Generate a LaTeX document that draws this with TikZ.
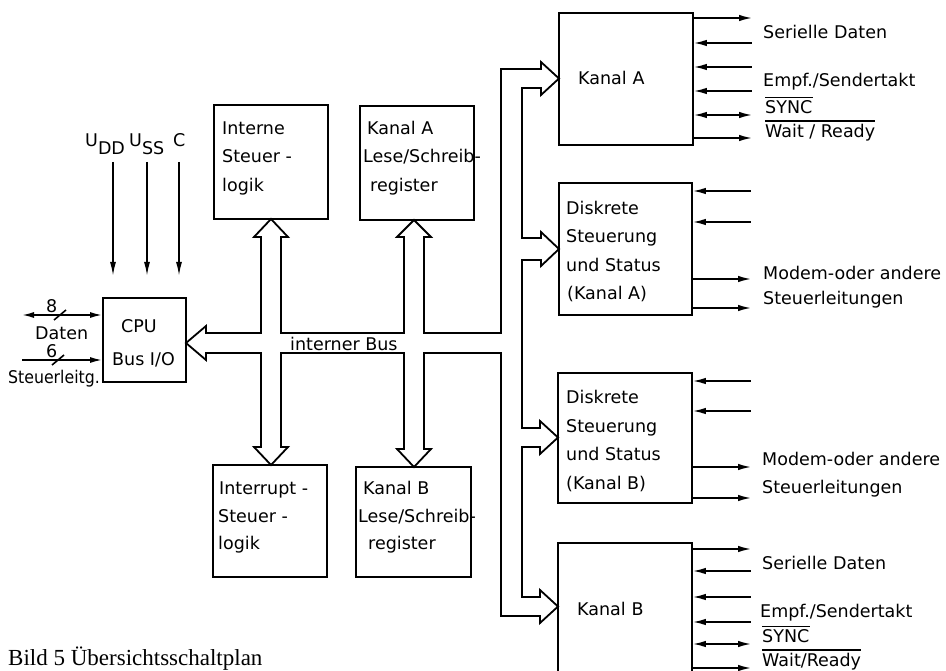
\documentclass[tikz,border=0pt]{standalone}
\usepackage{fontspec}
\setmainfont{DejaVu Sans}
\newfontfamily\capfont{Liberation Serif}
\usetikzlibrary{arrows.meta}
\tikzset{hd/.tip={Latex[length=13pt,width=6.5pt]}}
\begin{document}
\begin{tikzpicture}[x=1pt,y=-1pt,
  box/.style={draw, line width=1.8pt, inner sep=0pt},
  txt/.style={anchor=base west, inner sep=0pt, font=\fontsize{17.5}{21}\selectfont},
  sig/.style={line width=1.6pt},
  bus/.style={line width=1.8pt, line join=miter},
  ovl/.style={line width=1.5pt}
]
\useasboundingbox (0,0) rectangle (946,671);
\clip (0,0) rectangle (946,671);

% boxes
\node[box, minimum width=83pt,  minimum height=84pt]  (cpu) at (144.5,340) {};
\node[box, minimum width=114pt, minimum height=114pt] (ist) at (271,162) {};
\node[box, minimum width=114pt, minimum height=114pt] (alsr) at (417,163) {};
\node[box, minimum width=114pt, minimum height=112pt] (irq) at (270,521) {};
\node[box, minimum width=115pt, minimum height=110pt] (blsr) at (413.5,522) {};
\node[box, minimum width=134pt, minimum height=132pt] (ka) at (626,79) {};
\node[box, minimum width=133pt, minimum height=132pt] (da) at (625.5,249) {};
\node[box, minimum width=134pt, minimum height=130pt] (db) at (625,438) {};
\node[box, minimum width=134pt, minimum height=157pt] (kb) at (625,621.5) {};

% box texts
\node[txt] (t1) at (121,332.5) {CPU};
\node[txt] (t2) at (112,365.5) {Bus I/O};
\node[txt] (t3) at (222,134.5) {Interne};
\node[txt] (t4) at (222,163) {Steuer -};
\node[txt] (t5) at (222,191.5) {logik};
\node[txt] (t6) at (367,134.5) {Kanal A};
\node[txt] (t7) at (363,163) {Lese/Schreib-};
\node[txt] (t8) at (370,191.5) {register};
\node[txt] (t9) at (219,494.5) {Interrupt -};
\node[txt] (t10) at (218,522) {Steuer -};
\node[txt] (t11) at (218,549.5) {logik};
\node[txt] (t12) at (363,494.5) {Kanal B};
\node[txt] (t13) at (358,522) {Lese/Schreib-};
\node[txt] (t14) at (368,549.5) {register};
\node[txt] (t15) at (578,84.5) {Kanal\,\,A};
\node[txt] (t16) at (566,214.5) {Diskrete};
\node[txt] (t17) at (566,243) {Steuerung};
\node[txt] (t18) at (566,271.5) {und Status};
\node[txt] (t19) at (567,300) {(Kanal A)};
\node[txt] (t20) at (566,403.5) {Diskrete};
\node[txt] (t21) at (566,432) {Steuerung};
\node[txt] (t22) at (566,460.5) {und Status};
\node[txt] (t23) at (566,489) {(Kanal B)};
\node[txt] (t24) at (577,615.5) {Kanal\,\,B};
\node[txt] (bus) at (290,350.5) {interner Bus};

% internal bus outline
\draw[bus] (206,326) -- (186,343) -- (206,360) -- (206,353) -- (261,353)
  -- (261,447) -- (254,447) -- (271,465) -- (288,447) -- (281,447) -- (281,353)
  -- (404,353) -- (404,449) -- (397,449) -- (414,467) -- (431,449) -- (424,449) -- (424,353)
  -- (501,353) -- (501,616) -- (540,616) -- (540,623) -- (558,606.5) -- (540,590) -- (540,597)
  -- (522,597) -- (522,447) -- (540,447) -- (540,454) -- (558,437.5) -- (540,421) -- (540,428)
  -- (522,428) -- (522,260) -- (541,260) -- (541,266) -- (559,249) -- (541,232) -- (541,238)
  -- (522,238) -- (522,88) -- (541,88) -- (541,95) -- (559,78.5) -- (541,62) -- (541,69)
  -- (501,69) -- (501,333) -- (424,333) -- (424,237) -- (431,237) -- (414,220) -- (397,237)
  -- (404,237) -- (404,333) -- (281,333) -- (281,237) -- (288,237) -- (271,219) -- (254,237)
  -- (261,237) -- (261,333) -- (206,333) -- cycle;

% supply inputs
\node[txt] (udd) at (85,147) {U\raisebox{-8pt}{DD}};
\node[txt] (uss) at (129,147) {U\raisebox{-8pt}{SS}};
\node[txt] (cc) at (173,147) {C};
\coordinate (u1) at (113,162);
\coordinate (u2) at (147,162);
\coordinate (u3) at (179,162);
\foreach \c in {u1,u2,u3}
  \draw[sig,-{Latex[length=14pt,width=6pt]}] (\c) -- ++(0,114);

% CPU left lines
\coordinate (dl) at (22,315);
\coordinate (cl) at (22,360);
\draw[sig,{Latex[length=12pt,width=6pt]}-{Latex[length=12pt,width=6pt]}] (dl) -- (cpu.west |- dl);
\draw[sig,-{Latex[length=12pt,width=6pt]}] (cl) -- (cpu.west |- cl);
\draw[sig] (54,320) -- (66,310);
\draw[sig] (52,365) -- (64,355);
\node[txt] (n8) at (46,313) {8};
\node[txt] (n6) at (46,358) {6};
\node[txt] (dat) at (35,339.5) {Daten};
\node[txt] (stl) at (8,383.5) {\scalebox{0.9}[1]{Steuerleitg.}};

% Kanal A signals
\draw[sig,-{hd}] (ka.east |- 0,18) -- (752,18);
\foreach \y in {43,67,91}
  \draw[sig,{hd}-] (ka.east |- 0,\y) -- (752,\y);
\draw[sig,{hd}-{hd}] (ka.east |- 0,115) -- (752,115);
\draw[sig,-{hd}] (ka.east |- 0,138) -- (752,138);
\node[txt] (la1) at (763,38.5) {Serielle\,\,Daten};
\node[txt] (la2) at (763,86.5) {Empf./Sendertakt};
\node[txt] (la3) at (765,113.5) {SYNC};
\node[txt] (la4) at (765,137.5) {Wait / Ready};
\draw[ovl] ([yshift=3pt]la3.north west) -- ([yshift=3pt]la3.north east);
\draw[ovl] ([yshift=3pt]la4.north west) -- ([yshift=3pt]la4.north east);

% Diskrete A signals
\foreach \y in {191,222}
  \draw[sig,{hd}-] (da.east |- 0,\y) -- (751,\y);
\foreach \y in {279,308}
  \draw[sig,-{hd}] (da.east |- 0,\y) -- (751,\y);
\node[txt] (lb1) at (763,279.5) {Modem-oder andere};
\node[txt] (lb2) at (763,305) {Steuerleitungen};

% Diskrete B signals
\foreach \y in {381,411}
  \draw[sig,{hd}-] (db.east |- 0,\y) -- (751,\y);
\foreach \y in {467,498}
  \draw[sig,-{hd}] (db.east |- 0,\y) -- (751,\y);
\node[txt] (lc1) at (762,465.5) {Modem-oder andere};
\node[txt] (lc2) at (762,493) {Steuerleitungen};

% Kanal B signals
\draw[sig,-{hd}] (kb.east |- 0,549) -- (751,549);
\foreach \y in {571,597,622}
  \draw[sig,{hd}-] (kb.east |- 0,\y) -- (751,\y);
\draw[sig,{hd}-{hd}] (kb.east |- 0,644) -- (751,644);
\draw[sig,-{hd}] (kb.east |- 0,668) -- (751,668);
\node[txt] (ld1) at (762,569.5) {Serielle\,\,Daten};
\node[txt] (ld2) at (760,617.5) {Empf./Sendertakt};
\node[txt] (ld3) at (762,642.5) {SYNC};
\node[txt] (ld4) at (762,666.5) {Wait/Ready};
\draw[ovl] ([yshift=3pt]ld3.north west) -- ([yshift=3pt]ld3.north east);
\draw[ovl] ([yshift=3pt]ld4.north west) -- ([yshift=3pt]ld4.north east);

% caption
\node[anchor=base west, inner sep=0pt, font=\capfont\fontsize{23}{26}\selectfont] (cap) at (8,665) {Bild 5 Übersichtsschaltplan};
\end{tikzpicture}
\end{document}
